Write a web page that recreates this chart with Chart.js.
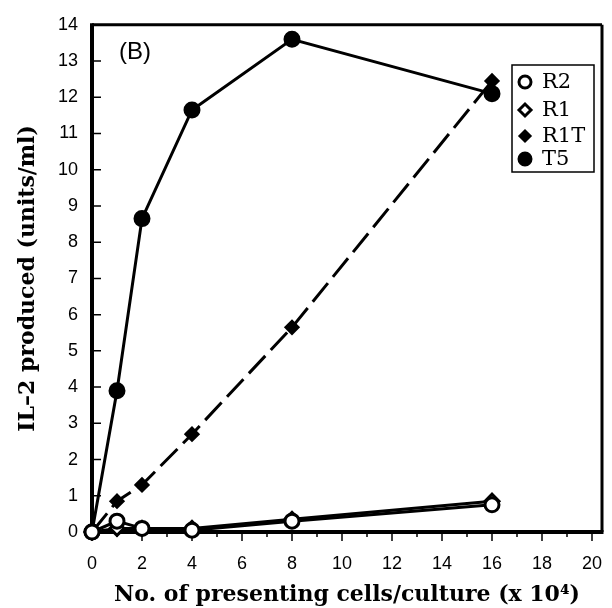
<!DOCTYPE html>
<html>
<head>
<meta charset="utf-8">
<script src="https://cdn.jsdelivr.net/npm/chart.js@4/dist/chart.umd.min.js"></script>
<style>
  html, body { margin: 0; padding: 0; background: #fff; }
</style>
</head>
<body>
<canvas id="il2Chart" width="612" height="608"></canvas>
<script>
const cells = [0, 1, 2, 4, 8, 16]
const r2 = [0, 0.3, 0.1, 0.05, 0.3, 0.75]
const r1 = [0, 0.1, 0.1, 0.1, 0.35, 0.85]
const r1t = [0, 0.85, 1.3, 2.7, 5.65, 12.45]
const t5 = [0, 3.9, 8.65, 11.65, 13.6, 12.1]
const xTicks = [0, 1, 2, 3, 4, 5, 6, 7, 8, 9, 10, 11, 12, 13, 14, 15, 16, 17, 18, 19, 20]
const yTicks = [0, 1, 2, 3, 4, 5, 6, 7, 8, 9, 10, 11, 12, 13, 14]

const toPoints = vals => cells.map((c, i) => ({ x: c, y: vals[i] }))

function series(label, vals, style, radius, fill, dash) {
  return {
    label,
    data: toPoints(vals),
    borderColor: "#000",
    borderWidth: 3,
    borderDash: dash || [],
    pointStyle: style,
    pointRadius: radius,
    pointBackgroundColor: fill,
    pointBorderColor: "#000",
    pointBorderWidth: 3,
    tension: 0,
    clip: false
  }
}

// axes box, tick marks, panel letter and legend
const framePlugin = {
  id: "frame",
  beforeDatasetsDraw(chart) {
    const { ctx, chartArea: a, scales: { x, y } } = chart
    ctx.save()
    ctx.strokeStyle = "#000"
    ctx.lineWidth = 3
    ctx.beginPath()
    ctx.moveTo(a.left, a.top); ctx.lineTo(a.right, a.top)
    ctx.moveTo(a.right, a.top); ctx.lineTo(a.right, a.bottom)
    ctx.stroke()
    ctx.lineWidth = 4
    ctx.beginPath()
    ctx.moveTo(a.left, a.top - 1.5); ctx.lineTo(a.left, a.bottom)
    ctx.moveTo(a.left - 2, a.bottom); ctx.lineTo(a.right + 1.5, a.bottom)
    ctx.stroke()
    ctx.lineWidth = 1.5
    ctx.beginPath()
    y.ticks.forEach(t => {
      if (t.value <= 0 || t.value >= 14) return
      const py = y.getPixelForValue(t.value)
      ctx.moveTo(a.left, py); ctx.lineTo(a.left + 9, py)
    })
    x.ticks.forEach(t => {
      const px = x.getPixelForValue(t.value)
      const len = t.value % 2 === 0 ? 9 : 5
      ctx.moveTo(px, a.bottom); ctx.lineTo(px, a.bottom + len)
    })
    ctx.stroke()
    ctx.restore()
  },
  afterDraw(chart) {
    const { ctx } = chart
    ctx.save()
    ctx.fillStyle = "#000"
    ctx.font = "24px 'Liberation Sans', Arial, sans-serif"
    ctx.textBaseline = "middle"
    ctx.fillText("(B)", 119, 52)

    // legend box
    const box = { left: 512, top: 65, width: 82, height: 107 }
    ctx.fillStyle = "#fff"
    ctx.fillRect(box.left, box.top, box.width, box.height)
    ctx.strokeStyle = "#000"
    ctx.lineWidth = 1.5
    ctx.strokeRect(box.left, box.top, box.width, box.height)
    const rows = [82, 110, 136, 159]
    chart.data.datasets.forEach((ds, i) => {
      ctx.fillStyle = ds.pointBackgroundColor
      ctx.strokeStyle = "#000"
      ctx.lineWidth = ds.pointBorderWidth
      Chart.helpers.drawPoint(ctx, {
        pointStyle: ds.pointStyle,
        radius: ds.pointRadius - 1,
        borderWidth: ds.pointBorderWidth,
        rotation: 0
      }, 525, rows[i])
      ctx.fillStyle = "#000"
      ctx.font = "21px 'DejaVu Serif', serif"
      ctx.textBaseline = "middle"
      ctx.fillText(ds.label, 542, rows[i] + 1)
    })
    ctx.restore()
  }
}

const tickFont = { family: "'Liberation Sans', Arial, sans-serif", size: 18 }
const titleFont = { family: "'DejaVu Serif', serif", size: 22, weight: "bold" }

new Chart(document.getElementById("il2Chart"), {
  type: "line",
  data: {
    datasets: [
      series("R2", r2, "circle", 7, "#fff"),
      series("R1", r1, "rectRot", 7, "#fff"),
      series("R1T", r1t, "rectRot", 6, "#000", [24, 8]),
      series("T5", t5, "circle", 7, "#000")
    ]
  },
  options: {
    responsive: false,
    animation: false,
    layout: { padding: { top: 22, right: 0, left: 0, bottom: 0 } },
    plugins: { legend: { display: false }, tooltip: { enabled: false } },
    scales: {
      x: {
        type: "linear",
        min: 0,
        max: 20.4,
        afterBuildTicks: s => { s.ticks = xTicks.map(v => ({ value: v })) },
        afterFit: s => {
          s.height = 76
          s.paddingLeft = 0
          s.paddingRight = 0
        },
        grid: { display: false, drawTicks: false },
        border: { display: false },
        ticks: {
          color: "#000",
          font: tickFont,
          padding: 21,
          maxRotation: 0,
          autoSkip: false,
          callback: v => (v % 2 === 0 ? String(v) : "")
        },
        title: {
          display: true,
          text: "No. of presenting cells/culture (x 10\u2074)",
          color: "#000",
          font: titleFont,
          padding: { top: 0, bottom: 0 }
        }
      },
      y: {
        type: "linear",
        min: 0,
        max: 14,
        afterBuildTicks: s => { s.ticks = yTicks.map(v => ({ value: v })) },
        afterFit: s => { s.width = 92 },
        grid: { display: false, drawTicks: false },
        border: { display: false },
        ticks: { color: "#000", font: tickFont, padding: 14, autoSkip: false },
        title: {
          display: true,
          text: "IL\u20132 produced (units/ml)",
          color: "#000",
          font: titleFont,
          padding: { top: 15, bottom: 0 }
        }
      }
    }
  },
  plugins: [framePlugin]
})
</script>
</body>
</html>
